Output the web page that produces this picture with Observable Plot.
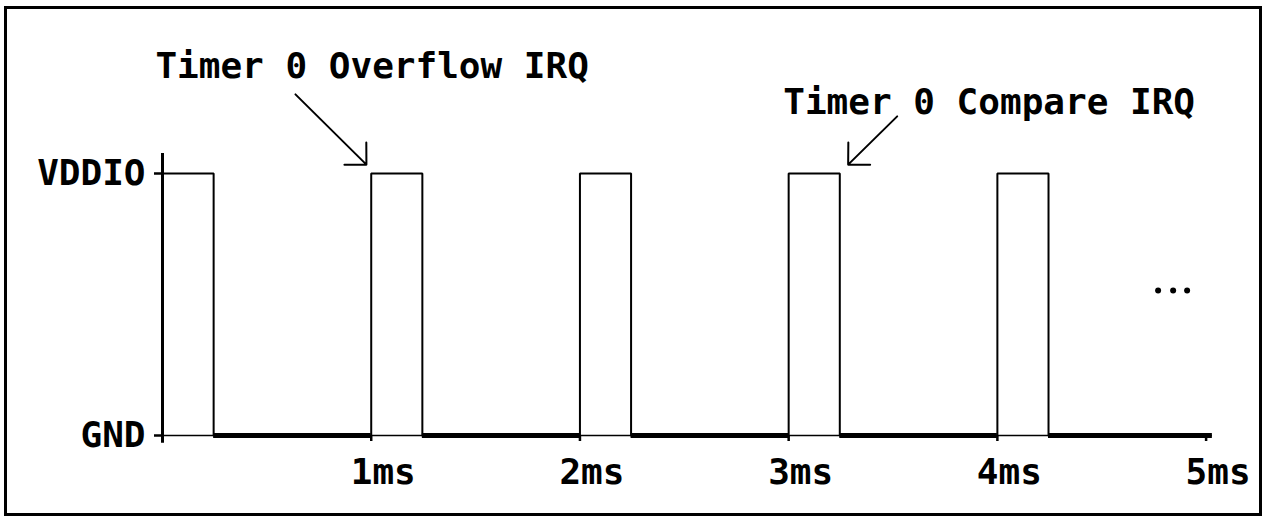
<!DOCTYPE html>
<html><head><meta charset="utf-8">
<script src="https://cdn.jsdelivr.net/npm/d3@7"></script>
<script src="https://cdn.jsdelivr.net/npm/@observablehq/plot@0.6"></script>
<style>
body{margin:0;background:#fff;}
#wrap{position:relative;width:1266px;height:520px;overflow:hidden;}
#frame{position:absolute;left:4px;top:6px;width:1258px;height:510px;border:3px solid #000;box-sizing:border-box;pointer-events:none}
</style></head><body><div id="wrap"><div id="frame"></div></div>
<script>
// ---- data ----
const pulseStarts = [0, 1, 2, 3, 4];          // ms
const pulseWidth = 0.245;                      // ms
const levels = [0, 1];                         // GND, VDDIO
const levelLabels = ["GND", "VDDIO"];
const xTicks = [0, 1, 2, 3, 4, 5];
const xTickLabels = ["", "1ms", "2ms", "3ms", "4ms", "5ms"];
const axisEnd = 5.03;
const yAxisRange = [-0.03, 1.076];
const annotationTexts = ["Timer 0 Overflow IRQ", "Timer 0 Compare IRQ"];
const annotationX = [-0.034, 2.974];
const annotationY = [1.41, 1.27];
const arrowFromX = [0.637, 3.520];
const arrowFromY = [1.302, 1.218];
const arrowToX = [0.977, 3.285];
const arrowToY = [1.034, 1.034];
const ellipsisX = [4.770, 4.842, 4.909];
const ellipsisY = 0.553;

// ---- derived tables ----
const lows = pulseStarts.map((s, i) => ({
  x1: s + pulseWidth,
  x2: i + 1 < pulseStarts.length ? pulseStarts[i + 1] : axisEnd
}));
const outline = pulseStarts.flatMap((s, i) => [
  {x: s, y: 0, z: i}, {x: s, y: 1, z: i}, {x: s + pulseWidth, y: 1, z: i}, {x: s + pulseWidth, y: 0, z: i}
]);
const annotations = annotationTexts.map((t, i) => ({text: t, x: annotationX[i], y: annotationY[i]}));
const arrows = arrowFromX.map((_, i) => ({x1: arrowFromX[i], y1: arrowFromY[i], x2: arrowToX[i], y2: arrowToY[i]}));

const FONT = "DejaVu Sans Mono";

const chart = Plot.plot({
  width: 1266,
  height: 520,
  marginLeft: 162,
  marginRight: 60.4,
  marginTop: 173,
  marginBottom: 85,
  style: {fontFamily: FONT, fontWeight: "bold", color: "#000", background: "transparent"},
  x: {domain: [0, 5]},
  y: {domain: [0, 1]},
  marks: [
    // thin baseline
    Plot.ruleY([0], {x1: 0, x2: axisEnd, stroke: "#000", strokeWidth: 1.5}),
    // thick low-level signal
    Plot.ruleY(lows, {x1: "x1", x2: "x2", y: () => 0, stroke: "#000", strokeWidth: 5}),
    // pulses
    Plot.line(outline, {x: "x", y: "y", z: "z", stroke: "#000", strokeWidth: 2, strokeLinejoin: "miter"}),
    // vertical axis line
    Plot.ruleX([0], {y1: yAxisRange[0], y2: yAxisRange[1], stroke: "#000", strokeWidth: 3}),
    // x ticks (no labels)
    Plot.axisX(xTicks, {tickFormat: () => "", tickSize: 6, strokeWidth: 2.5, label: null}),
    // x tick labels, slightly offset to the right as in the reference
    Plot.axisX(xTicks, {
      tickFormat: d => xTickLabels[xTicks.indexOf(d)],
      tickSize: 0, tickPadding: 23, fontSize: 36, dx: 12, label: null,
      fontFamily: FONT, fontWeight: "bold"
    }),
    Plot.axisY(levels, {
      tickFormat: d => levelLabels[levels.indexOf(d)],
      tickSize: 8, tickPadding: 9, fontSize: 36, strokeWidth: 2.5, label: null,
      fontFamily: FONT, fontWeight: "bold"
    }),
    Plot.text(annotations, {
      x: "x", y: "y", text: "text", textAnchor: "start", lineAnchor: "middle",
      fontSize: 36, fontFamily: FONT, fontWeight: "bold", fill: "#000"
    }),
    Plot.arrow(arrows, {
      x1: "x1", y1: "y1", x2: "x2", y2: "y2",
      headAngle: 90, headLength: 16.5, strokeWidth: 2, stroke: "#000"
    }),
    Plot.dot(ellipsisX, {x: d => d, y: () => ellipsisY, r: 3, fill: "#000", stroke: null})
  ]
});
document.getElementById("wrap").prepend(chart);
</script>
</body></html>
